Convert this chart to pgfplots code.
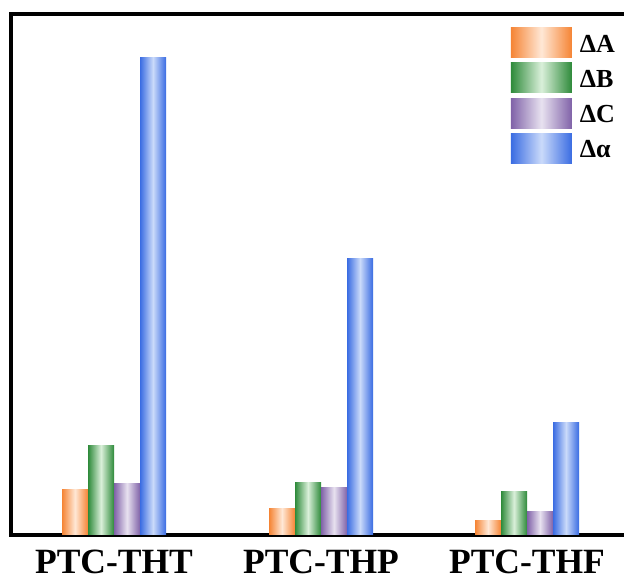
\documentclass[border=0pt]{standalone}
\usepackage{pgfplots}
\pgfplotsset{compat=1.18}
\usepackage{fontspec}
\setmainfont{Liberation Serif}
\definecolor{orD}{RGB}{245,132,52}
\definecolor{orL}{RGB}{255,232,214}
\definecolor{grD}{RGB}{46,138,58}
\definecolor{grL}{RGB}{218,240,218}
\definecolor{puD}{RGB}{128,98,168}
\definecolor{puL}{RGB}{232,226,240}
\definecolor{blD}{RGB}{58,108,226}
\definecolor{blL}{RGB}{202,218,250}
\tikzset{
  sA/.style={draw=none, left color=orD, right color=orD, middle color=orL},
  sB/.style={draw=none, left color=grD, right color=grD, middle color=grL},
  sC/.style={draw=none, left color=puD, right color=puD, middle color=puL},
  sD/.style={draw=none, left color=blD, right color=blD, middle color=blL},
}
\begin{document}
\begin{tikzpicture}
\begin{axis}[
  scale only axis,
  width=623pt, height=521pt,
  xmin=11, xmax=634, ymin=0, ymax=521,
  axis line style={line width=3.5pt},
  xtick={114,321,527},
  xticklabels={PTC-THT,PTC-THP,PTC-THF},
  ytick=\empty,
  major tick length=0pt,
  xticklabel style={font=\fontsize{35.5}{40}\selectfont\bfseries, inner sep=0pt, yshift=-15pt},
  legend style={draw=none, fill=none, at={(0.802,0.974)}, anchor=north west,
    inner sep=0pt, row sep=5.2pt, column sep=0pt,
    font=\fontsize{26}{28}\selectfont\bfseries,
    nodes={inner sep=0pt, right}},
  legend cell align=left,
  /tikz/every odd column/.append style={column sep=8pt},
  every axis plot/.append style={ybar, bar width=26pt, forget plot},
]
% Delta A
\addplot[sA, bar shift=-39pt] coordinates {(114,45)};
\addplot[sA, bar shift=-39pt] coordinates {(321,26)};
\addplot[sA, bar shift=-39pt] coordinates {(527,14)};
% Delta B
\addplot[sB, bar shift=-13pt] coordinates {(114,89)};
\addplot[sB, bar shift=-13pt] coordinates {(321,52)};
\addplot[sB, bar shift=-13pt] coordinates {(527,43)};
% Delta C
\addplot[sC, bar shift=13pt] coordinates {(114,51)};
\addplot[sC, bar shift=13pt] coordinates {(321,47)};
\addplot[sC, bar shift=13pt] coordinates {(527,23)};
% Delta alpha
\addplot[sD, bar shift=39pt] coordinates {(114,477)};
\addplot[sD, bar shift=39pt] coordinates {(321,276)};
\addplot[sD, bar shift=39pt] coordinates {(527,112)};
\addlegendimage{sA, legend image code/.code={\path[sA] (0pt,-13.5pt) rectangle (61pt,16.5pt);}}
\addlegendentry{ΔA}
\addlegendimage{sB, legend image code/.code={\path[sB] (0pt,-13.5pt) rectangle (61pt,16.5pt);}}
\addlegendentry{ΔB}
\addlegendimage{sC, legend image code/.code={\path[sC] (0pt,-13.5pt) rectangle (61pt,16.5pt);}}
\addlegendentry{ΔC}
\addlegendimage{sD, legend image code/.code={\path[sD] (0pt,-13.5pt) rectangle (61pt,16.5pt);}}
\addlegendentry{Δα}
\end{axis}
\pgfresetboundingbox
\path[use as bounding box] (-11pt,-45pt) rectangle (613pt,535pt);
\end{tikzpicture}
\end{document}
